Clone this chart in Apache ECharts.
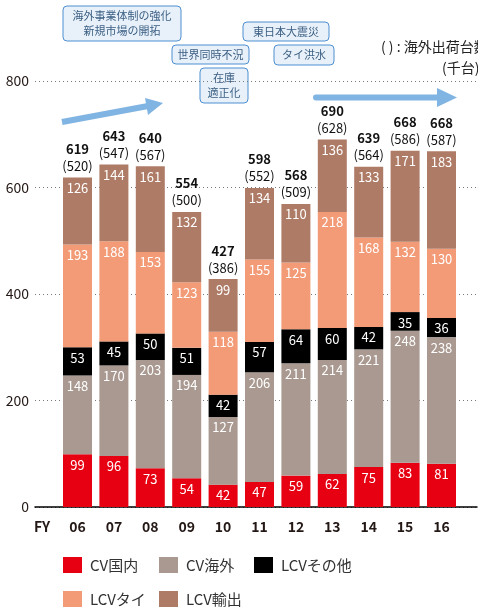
<!DOCTYPE html>
<html>
<head>
<meta charset="utf-8">
<script src="https://cdn.jsdelivr.net/npm/echarts@6/dist/echarts.min.js"></script>
<style>
    html, body { margin: 0; padding: 0; background: #fff; }
    #main { width: 478px; height: 607px; }
</style>
</head>
<body>
<div id="main"></div>
<script>
// Data (thousand units)
// ------------------------------

var years = ['06', '07', '08', '09', '10', '11', '12', '13', '14', '15', '16'];
var cvDomestic = [99, 96, 73, 54, 42, 47, 59, 62, 75, 83, 81];
var cvOverseas = [148, 170, 203, 194, 127, 206, 211, 214, 221, 248, 238];
var lcvOther = [53, 45, 50, 51, 42, 57, 64, 60, 42, 35, 36];
var lcvThai = [193, 188, 153, 123, 118, 155, 125, 218, 168, 132, 130];
var lcvExport = [126, 144, 161, 132, 99, 134, 110, 136, 133, 171, 183];
var totals = [619, 643, 640, 554, 427, 598, 568, 690, 639, 668, 668];
var overseasShipments = [520, 547, 567, 500, 386, 552, 509, 628, 564, 586, 587];
var seriesNames = ['CV国内', 'CV海外', 'LCVその他', 'LCVタイ', 'LCV輸出'];
var seriesColors = ['#e60012', '#a99990', '#000000', '#f39b77', '#ae7b66'];

var font = '"Noto Sans CJK JP", "Noto Sans", sans-serif';

var chart = echarts.init(document.getElementById('main'));

function segment(idx, values) {
    return {
        name: seriesNames[idx],
        type: 'bar',
        stack: 'total',
        xAxisIndex: 1,
        yAxisIndex: 1,
        barWidth: 29,
        itemStyle: { color: seriesColors[idx] },
        label: {
            show: true,
            position: 'insideTop',
            distance: 4,
            color: '#fff',
            fontSize: 13,
            fontFamily: font
        },
        data: values
    };
}

// annotation box helper
function noteBox(x, y, w, h, text) {
    return [{
        type: 'rect',
        shape: { x: x, y: y, width: w, height: h, r: 4 },
        style: { fill: '#e8f1fa', stroke: '#4f8fd0', lineWidth: 1 }
    }, {
        type: 'text',
        x: x + w / 2,
        y: y + h / 2,
        style: {
            text: text,
            align: 'center',
            verticalAlign: 'middle',
            fill: '#3b5f83',
            font: '11px ' + font,
            lineHeight: 15
        }
    }];
}

var graphics = [].concat(
    noteBox(63, 6, 118, 35, '海外事業体制の強化\n新規市場の開拓'),
    noteBox(172, 45, 77, 19, '世界同時不況'),
    noteBox(200, 68, 48, 35, '在庫\n適正化'),
    noteBox(243, 22, 86, 19, '東日本大震災'),
    noteBox(274, 45, 60, 20, 'タイ洪水'),
    [
        // arrows
        { type: 'polyline', shape: { points: [[62, 122], [148, 106]] },
          style: { stroke: '#80b4e2', lineWidth: 6 } },
        { type: 'polygon', shape: { points: [[163, 103], [145, 98], [148, 115]] },
          style: { fill: '#80b4e2' } },
        { type: 'polyline', shape: { points: [[316, 97.5], [440, 97.5]] },
          style: { stroke: '#80b4e2', lineWidth: 6, lineCap: 'round' } },
        { type: 'polygon', shape: { points: [[457, 97.5], [437, 88], [437, 107]] },
          style: { fill: '#80b4e2' } },
        { type: 'text', x: 381, y: 47,
          style: { text: '( ) : 海外出荷台数', align: 'left', verticalAlign: 'middle',
                   fill: '#222', font: '14px ' + font } },
        { type: 'text', x: 442, y: 68,
          style: { text: '(千台)', align: 'left', verticalAlign: 'middle',
                   fill: '#222', font: '14px ' + font } },
        { type: 'text', x: 42, y: 527,
          style: { text: 'FY', align: 'center', verticalAlign: 'middle',
                   fill: '#231815', font: 'bold 14px ' + font } }
    ]
);

// one legend per item so the columns line up
var legendSlots = [[63, 557], [159, 557], [254, 557], [63, 591], [159, 591]];

var legends = seriesNames.map(function (name, i) {
    return {
        left: legendSlots[i][0],
        top: legendSlots[i][1],
        padding: 0,
        itemWidth: 19,
        itemHeight: 16,
        selectedMode: false,
        icon: 'rect',
        data: [name],
        textStyle: {
            padding: [0, 0, 0, 3],
            fontSize: 15,
            color: '#333',
            fontFamily: font
        }
    };
});

var series = [
    segment(0, cvDomestic),
    segment(1, cvOverseas),
    segment(2, lcvOther),
    segment(3, lcvThai),
    segment(4, lcvExport),
    {
        name: 'total',
        type: 'bar',
        stack: 'total',
        xAxisIndex: 1,
        yAxisIndex: 1,
        barWidth: 29,
        itemStyle: { color: 'transparent' },
        label: {
            show: true,
            position: 'top',
            distance: 3,
            formatter: function (p) {
                return '{t|' + totals[p.dataIndex] + '}\n{s|(' + overseasShipments[p.dataIndex] + ')}';
            },
            rich: {
                t: { fontSize: 13, fontWeight: 'bold', color: '#111', fontFamily: font, lineHeight: 17 },
                s: { fontSize: 13, color: '#111', fontFamily: font, lineHeight: 17 }
            }
        },
        data: years.map(function () { return 0; })
    }
];

var options = {
    animation: false,
    textStyle: { fontFamily: font },
    grid: [
        { left: 35, right: 1, top: 81, bottom: 100 },
        { left: 59.3, right: 18.3, top: 81, bottom: 100 }
    ],
    xAxis: [{
        gridIndex: 0,
        type: 'value',
        min: 0,
        max: 1,
        axisLine: { show: true, lineStyle: { color: '#000', width: 1.5 } },
        axisTick: { show: false },
        axisLabel: { show: false },
        splitLine: { show: false }
    }, {
        gridIndex: 1,
        type: 'category',
        data: years,
        axisLine: { show: false },
        axisTick: { show: false },
        axisLabel: {
            margin: 13,
            fontSize: 14,
            fontWeight: 'bold',
            color: '#231815',
            fontFamily: font
        }
    }],
    yAxis: [{
        gridIndex: 0,
        type: 'value',
        min: 0,
        max: 800,
        interval: 200,
        axisLine: { show: false },
        axisTick: { show: false },
        axisLabel: { margin: 6, fontSize: 14, color: '#231815', fontFamily: font },
        splitLine: {
            show: true,
            lineStyle: { color: '#777', type: [1, 3], width: 1 }
        }
    }, {
        gridIndex: 1,
        type: 'value',
        min: 0,
        max: 800,
        show: false
    }],
    legend: legends,
    graphic: graphics,
    series: series
};

chart.setOption(options);
</script>
</body>
</html>
